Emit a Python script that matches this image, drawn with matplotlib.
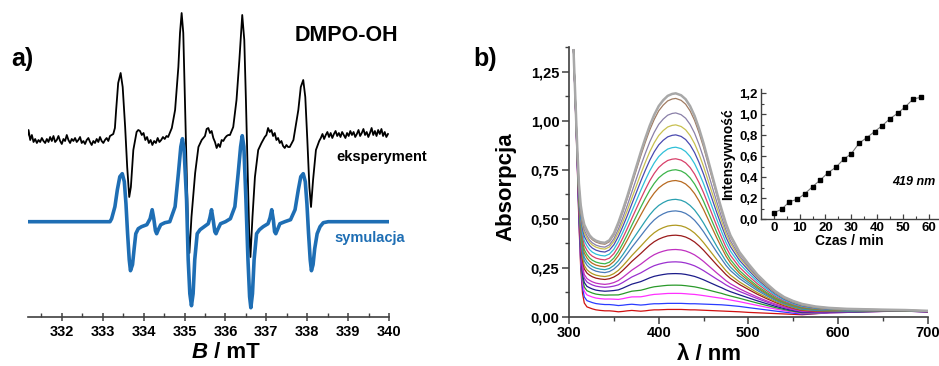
import matplotlib
matplotlib.use('Agg')
import matplotlib.pyplot as plt
import numpy as np

plt.rcParams['font.family'] = ['Liberation Sans', 'DejaVu Sans']
plt.rcParams['font.weight'] = 'bold'

# ---------------- a) EPR, DMPO-OH ----------------
# eksperyment: szum linii bazowej (wartosci)
exp_noise_left = [0.0, 0.08, -0.02, 0.03, -0.04, -0.01, -0.05, -0.02, -0.04, 0.0, -0.03, -0.05,
                  -0.01, -0.04, 0.01, -0.03, 0.02, -0.04, -0.02, 0.02, -0.03, -0.06, -0.01, -0.03,
                  0.03, -0.02, -0.05, -0.01, -0.03, 0.0, -0.04, -0.02, 0.01, -0.05, -0.03, -0.06,
                  -0.02, 0.0, -0.04, -0.07, -0.03, -0.05, -0.01, -0.04, 0.01, -0.03, -0.05, -0.02,
                  0.0, -0.03, 0.02, 0.03]
exp_noise_mid1 = [0.08, 0.07, 0.03, 0.05, -0.02, 0.01, -0.05, -0.02, -0.07, -0.03, -0.05, 0.0,
                  -0.04, -0.02, 0.01, -0.01, 0.02]
exp_noise_mid2 = [0.02, 0.09, 0.1, 0.05, 0.07, 0.0, -0.04, -0.1, -0.06, -0.09, -0.02, -0.03,
                  0.0, 0.02, 0.03]
exp_noise_mid3 = [0.03, 0.1, 0.06, 0.08, 0.02, 0.05, -0.02, 0.0, -0.05, -0.03, -0.08, -0.1,
                  -0.07, -0.09]
exp_noise_right = [0.0, 0.04, -0.01, 0.03, 0.06, 0.01, 0.05, 0.0, 0.04, 0.07, 0.02, 0.05, 0.01,
                   0.06, 0.03, 0.0, 0.05, 0.02, 0.07, 0.03, 0.06, 0.01, 0.04, 0.08, 0.02, 0.05,
                   0.09, 0.03, 0.06, 0.01, 0.05, 0.1, 0.03, 0.07, 0.02, 0.08, 0.04, 0.09, 0.02,
                   0.06, 0.01, 0.04]
# linie eksperymentalne
exp_l1_B = [333.26, 333.30, 333.33, 333.38, 333.44, 333.49, 333.55, 333.60, 333.65, 333.69, 333.75, 333.83]
exp_l1_I = [0.04, 0.10, 0.28, 0.55, 0.65, 0.51, 0.11, -0.29, -0.59, -0.49, -0.12, 0.06]
exp_l2_B = [334.60, 334.69, 334.77, 334.85, 334.89, 334.93, 334.97, 335.01, 335.05, 335.09, 335.12,
            335.17, 335.26, 335.34, 335.42]
exp_l2_I = [0.01, 0.10, 0.28, 0.71, 1.05, 1.25, 1.05, 0.38, -0.29, -0.95, -1.15, -0.79, -0.35, -0.09, -0.02]
exp_l3_B = [336.11, 336.19, 336.27, 336.34, 336.39, 336.41, 336.46, 336.50, 336.54, 336.58, 336.61,
            336.66, 336.72, 336.80, 336.88, 336.96]
exp_l3_I = [0.03, 0.11, 0.38, 0.78, 1.11, 1.23, 0.98, 0.38, -0.29, -0.95, -1.19, -0.79, -0.39, -0.12, -0.05, 0.01]
exp_l4_B = [337.57, 337.66, 337.78, 337.84, 337.90, 337.95, 338.00, 338.05, 338.09, 338.14, 338.21, 338.29]
exp_l4_I = [-0.09, -0.02, 0.28, 0.51, 0.58, 0.41, -0.02, -0.49, -0.69, -0.42, -0.12, -0.03]

# symulacja
sim_B = [331.15, 333.18, 333.22, 333.30, 333.36, 333.42, 333.48, 333.53, 333.57, 333.61, 333.65,
         333.68, 333.73, 333.77, 333.81, 333.87, 333.95, 334.08, 334.16, 334.21, 334.25, 334.29,
         334.32, 334.36, 334.42, 334.52, 334.64, 334.77, 334.85, 334.91, 334.95, 334.99, 335.05,
         335.09, 335.13, 335.17, 335.21, 335.25, 335.31, 335.38, 335.48, 335.58, 335.62, 335.66,
         335.70, 335.74, 335.77, 335.81, 335.88, 336.00, 336.12, 336.23, 336.31, 336.37, 336.41,
         336.45, 336.50, 336.55, 336.59, 336.62, 336.66, 336.70, 336.76, 336.83, 336.92, 337.04,
         337.09, 337.13, 337.17, 337.20, 337.23, 337.27, 337.33, 337.45, 337.59, 337.70, 337.78,
         337.84, 337.90, 337.95, 337.99, 338.03, 338.07, 338.10, 338.14, 338.18, 338.24, 338.31,
         338.39, 338.51, 339.97]
sim_I = [0.0, 0.0, 0.03, 0.15, 0.32, 0.45, 0.48, 0.40, 0.18, -0.12, -0.38,
         -0.49, -0.43, -0.27, -0.12, -0.07, -0.05, -0.03, 0.03, 0.12, 0.03, -0.09,
         -0.12, -0.08, -0.03, -0.01, 0.0, 0.15, 0.48, 0.75, 0.83, 0.72, 0.22,
         -0.38, -0.72, -0.84, -0.72, -0.38, -0.12, -0.08, -0.05, -0.02, 0.04, 0.12,
         0.02, -0.10, -0.12, -0.08, -0.02, 0.0, 0.03, 0.15, 0.48, 0.75, 0.86,
         0.75, 0.22, -0.38, -0.75, -0.86, -0.72, -0.38, -0.12, -0.08, -0.05, -0.02,
         0.04, 0.12, 0.02, -0.10, -0.12, -0.08, -0.02, 0.0, 0.02, 0.12, 0.32,
         0.45, 0.48, 0.40, 0.18, -0.12, -0.38, -0.49, -0.43, -0.27, -0.12, -0.05,
         -0.01, 0.0, 0.0]

exp_offset = 1.787
sim_offset = 0.95

# ---------------- b) UV-Vis ----------------
wl = [305, 307, 309, 311, 313, 315, 317, 320, 323, 326, 330, 335, 340,
      345, 350, 355, 360, 365, 370, 375, 380, 385, 390, 395, 400, 405, 410, 415, 419,
      425, 430, 435, 440, 445, 450, 455, 460, 465, 470, 475, 480,
      490, 500, 510, 520, 530, 540, 550, 560, 575, 590, 610, 630, 650, 675, 700]
# najnizsze widmo
abs_first = [1.36, 1.08, 0.80, 0.48, 0.25, 0.12, 0.07, 0.05, 0.045, 0.04, 0.035, 0.032, 0.03,
             0.03, 0.028, 0.025, 0.027, 0.03, 0.032, 0.03, 0.028, 0.03, 0.033, 0.035, 0.035, 0.036, 0.037, 0.037,
             0.037, 0.037, 0.036, 0.035, 0.035, 0.034, 0.033, 0.032, 0.031, 0.03, 0.029, 0.028, 0.027,
             0.025, 0.022, 0.02, 0.018, 0.016, 0.014, 0.012, 0.01, 0.015, 0.02, 0.022, 0.025, 0.027, 0.028, 0.025]
# najwyzsze widmo
abs_last = [1.36, 1.12, 0.88, 0.68, 0.57, 0.51, 0.47, 0.44, 0.415, 0.40, 0.388, 0.38, 0.377,
            0.39, 0.425, 0.48, 0.545, 0.615, 0.69, 0.765, 0.84, 0.91, 0.975, 1.03, 1.075, 1.105, 1.127, 1.137,
            1.14, 1.13, 1.11, 1.075, 1.025, 0.96, 0.885, 0.80, 0.715, 0.63, 0.55, 0.475, 0.415,
            0.33, 0.27, 0.215, 0.17, 0.13, 0.10, 0.08, 0.065, 0.052, 0.045, 0.04, 0.038, 0.036, 0.034, 0.03]
# plaska skladowa tla
abs_flat = [0.0, 0.15, 0.35, 0.6, 0.8, 0.92, 0.98, 1.0, 1.0, 1.0, 1.0, 1.0, 1.0,
            1.0, 1.0, 1.0, 1.0, 1.0, 1.0, 1.0, 1.0, 1.0, 1.0, 1.0, 1.0, 1.0, 1.0, 1.0,
            1.0, 1.0, 1.0, 1.0, 1.0, 1.0, 1.0, 1.0, 1.0, 1.0, 1.0, 0.97, 0.94,
            0.86, 0.76, 0.64, 0.52, 0.40, 0.29, 0.19, 0.11, 0.04, 0.01, 0.0, 0.0, 0.0, 0.0, 0.0]
# absorpcja przy 419 nm i w minimum (340 nm) dla kolejnych widm
abs_419 = [0.037, 0.068, 0.119, 0.161, 0.22, 0.28, 0.343, 0.416, 0.467, 0.54, 0.599, 0.695,
           0.75, 0.806, 0.865, 0.928, 0.979, 1.04, 1.114, 1.14]
abs_340 = [0.03, 0.062, 0.09, 0.11, 0.13, 0.15, 0.165, 0.19, 0.205, 0.225, 0.24, 0.255,
           0.27, 0.29, 0.31, 0.33, 0.345, 0.355, 0.37, 0.377]
spec_colors = ['#d01010', '#2a3cff', '#ff30ff', '#2a9a2a', '#1c1c8a', '#9b30d0', '#c030c0',
               '#9a1a1a', '#b09a20', '#4a7ab8', '#2aa0b0', '#b86a20', '#3cb44a', '#d8406a',
               '#30c0d8', '#4a4ab0', '#c8c050', '#8a80a8', '#a07a60', '#a8a8a8']

# wstawka
czas = [0, 3, 6, 9, 12, 15, 18, 21, 24, 27, 30, 33, 36, 39, 42, 45, 48, 51, 54, 57]
intens = [0.063, 0.095, 0.168, 0.19, 0.244, 0.311, 0.375, 0.444, 0.495, 0.571, 0.625, 0.724,
          0.778, 0.835, 0.892, 0.959, 1.01, 1.073, 1.146, 1.162]

blue = '#1e6eb4'
spine_c = '#404040'

fig = plt.figure(figsize=(9.39, 3.66), dpi=100)

# ---- panel a
ax1 = fig.add_axes([0.0295, 0.1347, 0.385, 0.8653])
segs_B = list(np.linspace(331.15, 333.22, len(exp_noise_left)))
segs_I = list(exp_noise_left)
segs_B += exp_l1_B
segs_I += exp_l1_I
segs_B += list(np.linspace(333.87, 334.56, len(exp_noise_mid1)))
segs_I += exp_noise_mid1
segs_B += exp_l2_B
segs_I += exp_l2_I
segs_B += list(np.linspace(335.50, 336.07, len(exp_noise_mid2)))
segs_I += exp_noise_mid2
segs_B += exp_l3_B
segs_I += exp_l3_I
segs_B += list(np.linspace(337.00, 337.53, len(exp_noise_mid3)))
segs_I += exp_noise_mid3
segs_B += exp_l4_B
segs_I += exp_l4_I
segs_B += list(np.linspace(338.33, 339.97, len(exp_noise_right)))
segs_I += exp_noise_right

ax1.plot(segs_B, np.array(segs_I) + exp_offset, color='black', lw=1.3)
ax1.plot(sim_B, np.array(sim_I) + sim_offset, color=blue, lw=2.6, solid_joinstyle='round')
ax1.set_xlim(331.17, 340)
ax1.set_ylim(0, 3.167)
for s in ['left', 'top', 'right']:
    ax1.spines[s].set_visible(False)
ax1.spines['bottom'].set_color(spine_c)
ax1.spines['bottom'].set_linewidth(1.2)
ax1.set_yticks([])
ax1.set_xticks(np.arange(332, 341, 1))
ax1.set_xticks(np.arange(331.5, 340, 1), minor=True)
ax1.tick_params(axis='x', which='major', direction='inout', length=6, width=1.1, color=spine_c,
                labelsize=10.5, pad=3)
ax1.tick_params(axis='x', which='minor', direction='in', length=3, width=1.0, color=spine_c)
for lab in ax1.get_xticklabels():
    lab.set_fontweight('bold')
ax1.text(338.72, 1.60, 'eksperyment', fontsize=10.5, fontweight='bold', va='center', ha='left',
         clip_on=False)
ax1.text(338.65, 0.79, 'symulacja', fontsize=10.5, fontweight='bold', va='center', ha='left',
         color=blue)

fig.text(0.3685, 0.904, 'DMPO-OH', fontsize=15.5, fontweight='bold', ha='center', va='center')
fig.text(0.0234, 0.839, 'a)', fontsize=18, fontweight='bold', ha='center', va='center')
fig.text(0.2215, 0.022, 'B', fontsize=16, fontweight='bold', style='italic', ha='right', va='baseline')
fig.text(0.2215, 0.022, ' / mT', fontsize=16, fontweight='bold', ha='left', va='baseline')

# ---- panel b
ax2 = fig.add_axes([0.606, 0.1347, 0.382, 0.7377])
R = np.array(abs_first)
T = np.array(abs_last)
F = np.array(abs_flat)
i419 = wl.index(419)
i340 = wl.index(340)
M = np.array([[T[i419] - R[i419], F[i419]], [T[i340] - R[i340], F[i340]]])
for P, V, c in zip(abs_419, abs_340, spec_colors):
    k, m = np.linalg.solve(M, [P - R[i419], V - R[i340]])
    y = R + k * (T - R) + m * F
    lw = 1.8 if c == '#a8a8a8' else 0.9
    ax2.plot(wl, y, color=c, lw=lw)
ax2.set_xlim(300, 700)
ax2.set_ylim(0, 1.378)
for s in ['top', 'right']:
    ax2.spines[s].set_visible(False)
for s in ['left', 'bottom']:
    ax2.spines[s].set_color(spine_c)
    ax2.spines[s].set_linewidth(1.2)
y_ticks = [0, 0.25, 0.5, 0.75, 1.0, 1.25]
ax2.set_yticks(y_ticks)
ax2.set_yticklabels(['{:.2f}'.format(v).replace('.', ',') for v in y_ticks])
ax2.set_yticks(np.arange(0.125, 1.376, 0.25), minor=True)
ax2.set_xticks([300, 400, 500, 600, 700])
ax2.set_xticks([350, 450, 550, 650], minor=True)
ax2.tick_params(which='major', direction='out', length=5, width=1.1, color=spine_c,
                labelsize=10.5, pad=2)
ax2.tick_params(which='minor', direction='out', length=3, width=1.0, color=spine_c)
for lab in ax2.get_xticklabels() + ax2.get_yticklabels():
    lab.set_fontweight('bold')

fig.text(0.5165, 0.839, 'b)', fontsize=18, fontweight='bold', ha='center', va='center')
fig.text(0.539, 0.489, 'Absorpcja', fontsize=16, fontweight='bold', rotation=90,
         ha='center', va='center')
fig.text(0.755, 0.016, 'λ / nm', fontsize=16, fontweight='bold', ha='center', va='baseline')

# ---- wstawka
ax3 = fig.add_axes([0.810, 0.4008, 0.19, 0.356])
ax3.plot(czas, intens, color='#777777', lw=0.8)
ax3.plot(czas, intens, 's', color='black', ms=3.0, lw=0)
ax3.set_xlim(-5.16, 64.0)
ax3.set_ylim(0, 1.241)
for s in ['top', 'right']:
    ax3.spines[s].set_visible(False)
for s in ['left', 'bottom']:
    ax3.spines[s].set_color(spine_c)
    ax3.spines[s].set_linewidth(1.0)
in_ticks = [0, 0.2, 0.4, 0.6, 0.8, 1.0, 1.2]
ax3.set_yticks(in_ticks)
ax3.set_yticklabels(['{:.1f}'.format(v).replace('.', ',') for v in in_ticks])
ax3.set_yticks(np.arange(0.1, 1.25, 0.2), minor=True)
ax3.set_xticks([0, 10, 20, 30, 40, 50, 60])
ax3.set_xticks([5, 15, 25, 35, 45, 55], minor=True)
ax3.tick_params(which='major', direction='in', length=3.5, width=0.9, color=spine_c,
                labelsize=9.5, pad=2)
ax3.tick_params(which='minor', direction='in', length=2, width=0.8, color=spine_c)
for lab in ax3.get_xticklabels() + ax3.get_yticklabels():
    lab.set_fontweight('bold')
ax3.set_xlabel('Czas / min', fontsize=10, fontweight='bold', labelpad=0)
ax3.set_ylabel('Intensywność', fontsize=10, fontweight='bold', labelpad=3)
ax3.patch.set_alpha(0)
ax3.text(62.8, 0.355, '419 nm', fontsize=9, fontweight='bold', style='italic', ha='right', va='center')

fig.savefig('out.png', dpi=100)
